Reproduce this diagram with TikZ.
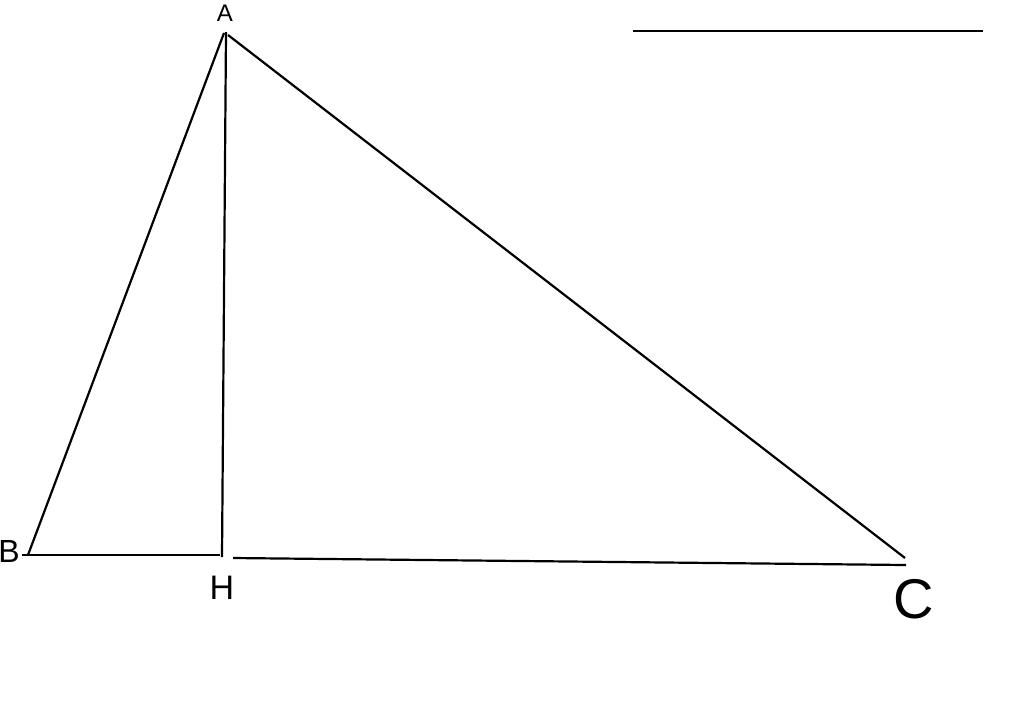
\documentclass[tikz,border=0pt]{standalone}
\usepackage{fontspec}
\setmainfont{Liberation Sans}
\begin{document}
\begin{tikzpicture}[x=1pt,y=-1pt,
  seg/.style={line width=2.2pt,black},
  lbl/.style={inner sep=0pt,font=\fontsize{#1}{#1}\selectfont}]
\useasboundingbox (0,0) rectangle (1024,724);
\coordinate (A) at (224,33);
\coordinate (B) at (28,555);
\coordinate (H1) at (220,555);
\coordinate (Htop) at (226,32);
\coordinate (Hbot) at (222,557);
\coordinate (H2) at (233,558);
\coordinate (C) at (906,565);
\coordinate (Cb) at (905,558);
\coordinate (Ac) at (228,35);
\coordinate (T1) at (633,31);
\coordinate (T2) at (983,31);
\draw[seg] (A) -- (B);
\draw[seg] (B) ++(-6,0) coordinate (B0) (B0) -- (H1);
\draw[seg] (Htop) -- (Hbot);
\draw[seg] (H2) -- (C);
\draw[seg] (Ac) -- (Cb);
\draw[line width=1.5pt] (T1) -- (T2);
\node[lbl=24] (la) at (225,13) {A};
\node[lbl=32] (lb) at (9,551) {B};
\node[lbl=34] (lh) at (222,588) {H};
\node[lbl=56] (lc) at (914,599) {C};
\end{tikzpicture}
\end{document}
